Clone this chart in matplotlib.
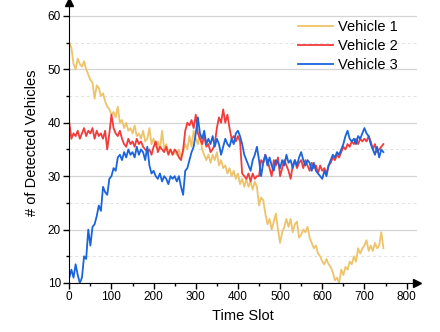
import numpy as np
import matplotlib
matplotlib.use('Agg')
import matplotlib.pyplot as plt
from matplotlib.ticker import MultipleLocator

plt.rcParams['font.family'] = ['Liberation Sans', 'DejaVu Sans']

# time slots, one value read every 5 slots
time_slot = np.arange(0, 750, 5)

vehicle1 = [55, 54, 51, 50, 52, 51, 50.5, 51.5, 50, 49,
            48, 47.5, 44.5, 47, 46.5, 45, 45.5, 44, 43, 42.5,
            41.5, 42, 41, 43, 40, 40.5, 39, 40, 38.5, 39,
            38, 39.5, 37.5, 38, 37, 38.5, 36.5, 37, 39, 36,
            37, 35.5, 36.5, 35, 38.5, 35, 36, 34.5, 35, 34,
            34.5, 34, 35, 33.5, 34.5, 36, 35, 37.5, 35.5, 38.5,
            37, 36, 38, 35, 34, 33, 34, 32.5, 34, 33,
            34.5, 32, 33, 31.5, 32, 30.5, 31.5, 30, 31, 29.5,
            30.5, 28.5, 29.5, 28, 29.5, 28, 29, 27.5, 29, 28,
            24.5, 26, 25.5, 23, 21, 22, 20, 21.5, 23, 20,
            17.5, 19.5, 20.5, 22, 20.5, 22, 19.5, 21, 21.5, 18.5,
            19, 20, 19.5, 20.5, 18.5, 17.5, 16.5, 17, 15.5, 15,
            14, 13.5, 14.5, 13.5, 13, 12, 10.5, 11, 10, 12.5,
            11.5, 13, 12.5, 14, 13.5, 15, 14, 16.5, 15.5, 16.5,
            17, 18, 16, 17, 16, 17.5, 16.5, 17, 19.5, 16.5]

vehicle2 = [40, 37, 38, 37.5, 38.5, 37, 38, 39, 37.5, 38.5,
            38, 39, 37, 38.5, 37.5, 38, 37, 38.5, 35, 38,
            41.5, 39, 38, 37.5, 38.5, 37, 36, 35.5, 37, 36,
            36.5, 35.5, 37, 36, 36.5, 35.5, 35, 34.5, 35, 34,
            35.5, 36.5, 34.5, 35.5, 35, 34.5, 35.5, 34, 35, 34,
            35, 34.5, 33.5, 33, 35, 38.5, 40, 39.5, 40.5, 39,
            41.5, 38, 37, 36, 37.5, 35.5, 36, 34.5, 35, 36,
            39, 41, 40, 42.5, 40, 41.5, 39, 37, 37.5, 36.5,
            37.5, 36.5, 30.5, 30, 29.5, 30.5, 29, 30.5, 29.5, 30,
            30, 33, 32.5, 34, 33, 31.5, 30, 33, 32, 33.5,
            30, 31.5, 33, 32, 31, 29.5, 32, 33, 31.5, 32.5,
            33, 31.5, 33, 32, 31, 32.5, 31.5, 32, 30.5, 32,
            31, 31.5, 30.5, 32, 32.5, 33.5, 33, 34, 33.5, 34.5,
            35.5, 35, 36, 35.5, 36.5, 36, 37, 36, 37, 36.5,
            37, 36.5, 37.5, 36.5, 35, 36, 34.5, 35, 35.5, 36]

vehicle3 = [11, 12.5, 11, 13.5, 11.5, 10, 11, 15, 14.5, 20,
            17, 20.5, 21, 22.5, 24.5, 23.5, 28, 27, 26.5, 29.5,
            30, 31.5, 31, 33.5, 34, 33, 34.5, 33.5, 35, 34,
            34.5, 33.5, 35.5, 34, 35, 34.5, 33, 35.5, 32, 30.5,
            31, 30, 29.5, 30.5, 29, 30, 29.5, 28.5, 30, 29.5,
            30, 29, 30, 28, 26.5, 31, 31.5, 33, 34.5, 35.5,
            38, 41, 38, 37, 38.5, 36, 37, 36, 37.5, 35.5,
            37, 36, 34, 35.5, 37, 36, 35.5, 37, 36, 38,
            38.5, 37.5, 36, 34, 33, 32, 31, 33, 34, 35.5,
            33, 30, 32.5, 34, 32, 33.5, 32, 31, 33, 32.5,
            31.5, 33, 32, 34, 32.5, 33, 31.5, 33, 32, 33.5,
            34.5, 33, 32, 33, 32.5, 31, 32.5, 31, 30.5, 30,
            29.5, 31, 30, 32, 33, 34, 33.5, 34.5, 34, 35,
            36, 37.5, 38.5, 37, 36.5, 37, 36, 37.5, 37, 38,
            39, 38, 37.5, 36, 35, 34, 35.5, 33.5, 35, 34.5]

labels = ['Vehicle 1', 'Vehicle 2', 'Vehicle 3']
colors = ['#EEC36A', '#F23B3B', '#1A64DE']

fig = plt.figure(figsize=(4.4, 3.32), dpi=100)
ax = fig.add_axes((0.1575, 0.1476, 0.7905, 0.8464))

for vals, lab, col in zip([vehicle1, vehicle2, vehicle3], labels, colors):
    ax.plot(time_slot, vals, color=col, lw=1.3, label=lab)

ax.set_xlim(0, 825)
ax.set_ylim(10, 62.6)
ax.xaxis.set_minor_locator(MultipleLocator(50))
ax.yaxis.set_minor_locator(MultipleLocator(5))
ax.set_xticks(np.arange(0, 801, 100))
ax.set_yticks(np.arange(10, 61, 10))

# horizontal grid only
ax.yaxis.grid(True, which='major', color='#d4d4d4', lw=0.9, ls='-')
ax.yaxis.grid(True, which='minor', color='#e2e2e2', lw=0.7, ls=(0, (3, 3)))
ax.set_axisbelow(True)

ax.spines['top'].set_visible(False)
ax.spines['right'].set_visible(False)
ax.tick_params(which='major', direction='out', length=4, width=1, labelsize=8.5, pad=2)
ax.tick_params(which='minor', direction='out', length=2.5, width=1)

# axis arrows
ax.plot(1, 0, '>k', ms=6, transform=ax.transAxes, clip_on=False)
ax.plot(0, 1, '^k', ms=6, transform=ax.transAxes, clip_on=False)

ax.set_xlabel('Time Slot', fontsize=10.5, labelpad=4)
ax.set_ylabel('# of Detected Vehicles', fontsize=10.5, labelpad=6)

ax.legend(loc='upper left', bbox_to_anchor=(0.64, 0.955), frameon=False,
          fontsize=10.5, handlelength=2.4, handletextpad=0.35,
          labelspacing=0.32, borderaxespad=0)

fig.savefig('out.png', dpi=100)
